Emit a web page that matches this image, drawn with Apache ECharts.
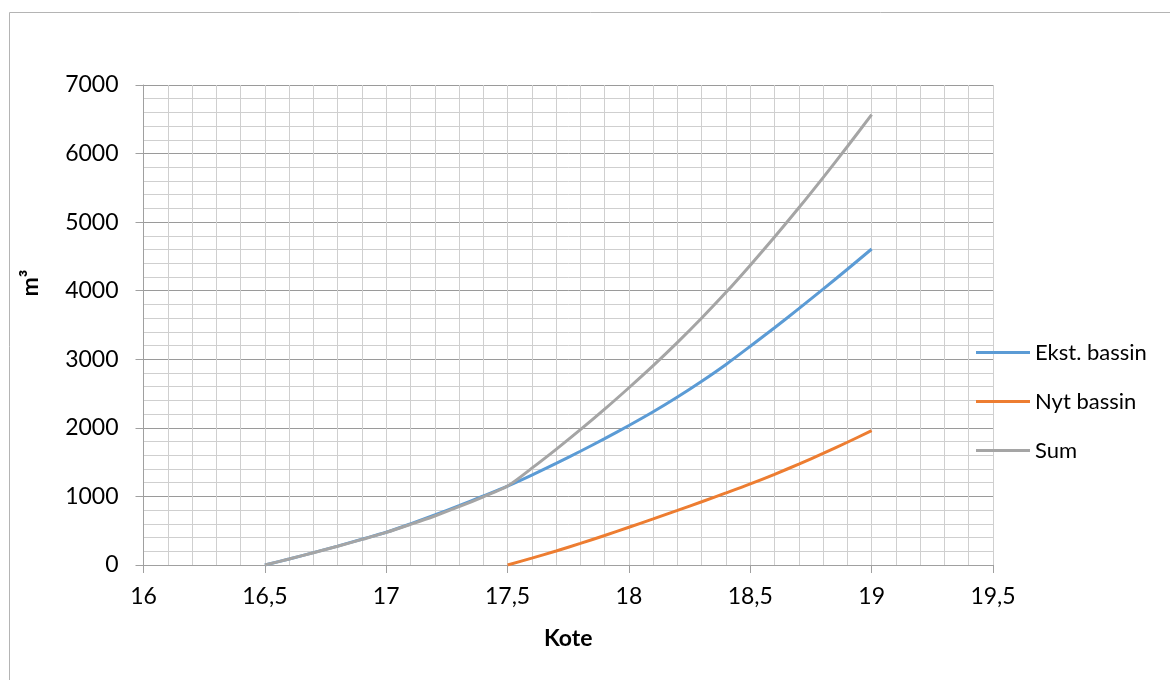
<!DOCTYPE html>
<html>
<head>
<meta charset="utf-8">
<script src="https://cdn.jsdelivr.net/npm/echarts@6/dist/echarts.min.js"></script>
<style>
html,body{margin:0;padding:0;background:#fff;}
#chart{width:1170px;height:680px;}
</style>
</head>
<body>
<div id="chart"></div>
<script>
// Kote values (x)
var kote = [16.5,16.6,16.7,16.8,16.9,17.0,17.1,17.2,17.3,17.4,17.5,17.6,17.7,17.8,17.9,18.0,18.1,18.2,18.3,18.4,18.5,18.6,18.7,18.8,18.9,19.0];
// Ekst. bassin (m3)
var ekst = [0,88,180,276,376,478,600,730,866,1007,1152,1312,1482,1659,1843,2035,2235,2450,2680,2925,3190,3460,3738,4023,4313,4608];
// Nyt bassin (m3), starts at kote 17.5
var koteNyt = [17.5,17.6,17.7,17.8,17.9,18.0,18.1,18.2,18.3,18.4,18.5,18.6,18.7,18.8,18.9,19.0];
var nyt = [0,100,205,315,430,550,672,796,922,1051,1183,1323,1471,1627,1790,1960];
// Sum (m3)
var sum = [0,88,179,274,373,475,592,715,850,995,1152,1412,1687,1974,2273,2585,2907,3246,3602,3976,4373,4783,5209,5650,6103,6568];

var seriesNames = ['Ekst. bassin','Nyt bassin','Sum'];
var colors = ['#5B9BD5','#ED7D31','#A5A5A5'];

function pairs(xs, ys){ return xs.map(function(x,i){ return [x, ys[i]]; }); }

var FONT = 'Lato';
var chart = echarts.init(document.getElementById('chart'), null, {renderer:'canvas'});
var option = {
  animation:false,
  backgroundColor:'#fff',
  color:colors,
  textStyle:{fontFamily:FONT},
  graphic:[
    {type:'rect', shape:{x:9.5,y:12.5,width:1200,height:700}, style:{fill:null, stroke:'#b4b4b4', lineWidth:1}, silent:true, z:-10},
    {type:'text', x:31, y:283, rotation:Math.PI/2, style:{text:'m³', font:'bold 23px Lato', fill:'#000', align:'center', verticalAlign:'middle'}}
  ],
  grid:{left:143.5, right:177, top:85, bottom:115, containLabel:false},
  legend:{
    orient:'vertical', left:971, top:336,
    icon:'rect', itemWidth:54, itemHeight:3, itemGap:26,
    textStyle:{fontFamily:FONT, fontSize:22, color:'#000', lineHeight:23},
    data:seriesNames
  },
  xAxis:{
    type:'value', min:16, max:19.5, interval:0.5,
    name:'Kote', nameLocation:'middle', nameGap:62,
    nameTextStyle:{fontFamily:FONT, fontSize:23, fontWeight:'bold', color:'#000'},
    axisLine:{show:true, lineStyle:{color:'#a0a0a0', width:1}},
    axisTick:{show:true, length:8, lineStyle:{color:'#a0a0a0'}},
    axisLabel:{color:'#000', fontSize:23, fontFamily:FONT, margin:20, formatter:function(v){return String(v).replace('.',',');}},
    splitLine:{show:true, lineStyle:{color:'#cfcfcf', width:1}},
    minorTick:{show:false, splitNumber:5},
    minorSplitLine:{show:true, lineStyle:{color:'#cfcfcf', width:1}}
  },
  yAxis:{
    type:'value', min:0, max:7000, interval:1000,
    axisLine:{show:true, lineStyle:{color:'#a0a0a0', width:1}},
    axisTick:{show:true, length:8, lineStyle:{color:'#a0a0a0'}},
    axisLabel:{color:'#000', fontSize:23, fontFamily:FONT, margin:25, formatter:function(v){return String(v);}},
    splitLine:{show:true, lineStyle:{color:'#9a9a9a', width:1}},
    minorTick:{show:false, splitNumber:5},
    minorSplitLine:{show:true, lineStyle:{color:'#cfcfcf', width:1}}
  },
  series:[
    {name:seriesNames[0], type:'line', data:pairs(kote, ekst), showSymbol:false, symbol:'none', smooth:0.3, lineStyle:{width:3, color:colors[0]}},
    {name:seriesNames[1], type:'line', data:pairs(koteNyt, nyt), showSymbol:false, symbol:'none', smooth:0.3, lineStyle:{width:3, color:colors[1]}},
    {name:seriesNames[2], type:'line', data:pairs(kote, sum), showSymbol:false, symbol:'none', smooth:0.3, lineStyle:{width:3, color:colors[2]}}
  ]
};
chart.setOption(option);
</script>
</body>
</html>
